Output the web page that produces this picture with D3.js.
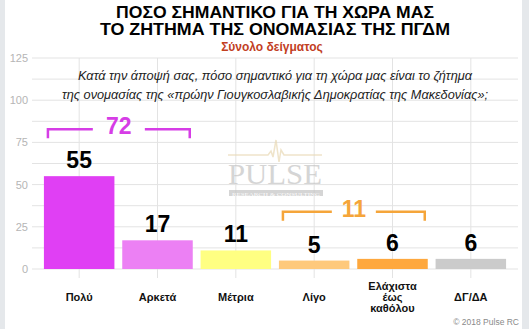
<!DOCTYPE html>
<html>
<head>
<meta charset="utf-8">
<script src="https://cdn.jsdelivr.net/npm/d3@7"></script>
<style>
  html, body { margin: 0; padding: 0; background: #fff; }
  svg { display: block; }
</style>
</head>
<body>
<svg id="chart" width="529" height="329"></svg>
<script>
// Survey answers and their shares (%)
const categories = ["Πολύ", "Αρκετά", "Μέτρια", "Λίγο", "Ελάχιστα έως καθόλου", "ΔΓ/ΔΑ"];
const categoryLines = [["Πολύ"], ["Αρκετά"], ["Μέτρια"], ["Λίγο"], ["Ελάχιστα", "έως", "καθόλου"], ["ΔΓ/ΔΑ"]];
const values = [55, 17, 11, 5, 6, 6];
const barColors = ["#e03ff4", "#ec80f4", "#ffff82", "#fec97c", "#fea83e", "#cbcbcb"];
const yTicks = [0, 25, 50, 75, 100, 125];
const gridValues = [0, 12.5, 25, 37.5, 50, 62.5, 75, 87.5, 100, 112.5, 125];

// Grouped totals shown with brackets above the bars
const groups = [
  { from: 0, to: 1, total: 72, color: "#d63de6" },
  { from: 3, to: 4, total: 11, color: "#f5a53a" }
];

const titleLines = ["ΠΟΣΟ ΣΗΜΑΝΤΙΚΟ ΓΙΑ ΤΗ ΧΩΡΑ ΜΑΣ", "ΤΟ ΖΗΤΗΜΑ ΤΗΣ ΟΝΟΜΑΣΙΑΣ ΤΗΣ ΠΓΔΜ"];
const titleWidths = [318, 350];
const subtitle = "Σύνολο δείγματος";
const questionLines = [
  "Κατά την άποψή σας, πόσο σημαντικό για τη χώρα μας είναι το ζήτημα",
  "της ονομασίας της «πρώην Γιουγκοσλαβικής Δημοκρατίας της Μακεδονίας»;"
];
const questionWidths = [394, 426];

const svg = d3.select("#chart");
const W = 529, H = 329;
const SANS = "Liberation Sans, Arial, sans-serif";

// side panels
svg.append("rect").attr("x", 0).attr("y", 0).attr("width", 5).attr("height", H).attr("fill", "#e5e8eb");
svg.append("rect").attr("x", 522).attr("y", 0).attr("width", 7).attr("height", H).attr("fill", "#e5e8eb");

const x = d3.scaleBand().domain(categories).range([40, 510]).paddingInner(0.1).paddingOuter(0.05);
const y = d3.scaleLinear().domain([0, 125]).range([269, 58]);

// grid
const grid = svg.append("g");
grid.selectAll("line.h").data(gridValues).join("line")
  .attr("x1", 32).attr("x2", 518)
  .attr("y1", d => y(d)).attr("y2", d => y(d))
  .attr("stroke", "#e3e3e3").attr("stroke-width", 1);
grid.selectAll("line.v").data(categories).join("line")
  .attr("x1", d => x(d) + x.bandwidth() / 2).attr("x2", d => x(d) + x.bandwidth() / 2)
  .attr("y1", y(125)).attr("y2", 278)
  .attr("stroke", "#e3e3e3").attr("stroke-width", 1);

// y axis labels
const yAxis = d3.axisLeft(y).tickValues(yTicks).tickSize(0).tickPadding(0);
const gy = svg.append("g").attr("transform", "translate(28,0)").call(yAxis);
gy.select(".domain").remove();
gy.selectAll("text").attr("fill", "#b5b5b5").attr("font-size", 11).attr("font-family", SANS);

// watermark logo
const wm = svg.append("g").attr("opacity", 0.7);
wm.append("path")
  .attr("d", "M228,155 L268,155 L271,151 L273,157 L276,140 L279,162 L281,150 L284,155 L322,155")
  .attr("fill", "none").attr("stroke", "#e9d9b5").attr("stroke-width", 1.5);
wm.append("text").attr("x", 275).attr("y", 184).attr("text-anchor", "middle")
  .attr("font-family", "Liberation Serif, Times New Roman, serif").attr("font-size", 30)
  .attr("fill", "#c4c4c4").attr("textLength", 94).attr("lengthAdjust", "spacingAndGlyphs").text("PULSE");
wm.append("rect").attr("x", 229).attr("y", 190).attr("width", 94).attr("height", 6).attr("fill", "#c4c4c4");
wm.append("text").attr("x", 276).attr("y", 195.5).attr("text-anchor", "middle")
  .attr("font-family", "Liberation Serif, serif").attr("font-size", 5)
  .attr("fill", "#fff").attr("textLength", 88).attr("lengthAdjust", "spacingAndGlyphs").text("RESEARCH & CONSULTING");

// bars
svg.append("g").selectAll("rect").data(values).join("rect")
  .attr("x", (d, i) => x(categories[i]))
  .attr("y", d => y(d))
  .attr("width", x.bandwidth())
  .attr("height", d => y(0) - y(d))
  .attr("fill", (d, i) => barColors[i]);

// value labels
svg.append("g").selectAll("text").data(values).join("text")
  .attr("x", (d, i) => x(categories[i]) + x.bandwidth() / 2)
  .attr("y", d => y(d) - 8)
  .attr("text-anchor", "middle")
  .attr("font-family", SANS)
  .attr("font-weight", "bold").attr("font-size", 23).attr("fill", "#000")
  .text(d => d);

// group brackets
groups.forEach(g => {
  const x0 = x(categories[g.from]) + 4;
  const x1 = x(categories[g.to]) + x.bandwidth() - 3;
  const top = y(d3.max(values.slice(g.from, g.to + 1))) - 47;
  const cx = (x0 + x1) / 2;
  const gap = g.total >= 20 ? 26 : 22;
  const b = svg.append("g").attr("stroke", g.color).attr("stroke-width", 2.5).attr("fill", "none");
  b.append("path").attr("d", `M${x0},${top + 9} L${x0},${top} L${cx - gap},${top}`);
  b.append("path").attr("d", `M${cx + gap},${top} L${x1},${top} L${x1},${top + 9}`);
  svg.append("text").attr("x", cx).attr("y", top + 5)
    .attr("text-anchor", "middle")
    .attr("font-family", SANS)
    .attr("font-weight", "bold").attr("font-size", 23).attr("fill", g.color)
    .text(g.total);
});

// category labels
const cat = svg.append("g");
categoryLines.forEach((lines, i) => {
  const cx = x(categories[i]) + x.bandwidth() / 2;
  const lh = 11;
  const base = 301 - (lines.length - 1) * lh / 2;
  lines.forEach((t, j) => {
    cat.append("text").attr("x", cx).attr("y", base + j * lh)
      .attr("text-anchor", "middle")
      .attr("font-family", SANS)
      .attr("font-weight", "bold").attr("font-size", 11).attr("fill", "#111")
      .text(t);
  });
});

// titles
titleLines.forEach((t, i) => {
  svg.append("text").attr("x", 275).attr("y", 18 + i * 17)
    .attr("text-anchor", "middle")
    .attr("font-family", SANS)
    .attr("font-weight", "bold").attr("font-size", 16.5).attr("fill", "#000")
    .attr("textLength", titleWidths[i]).attr("lengthAdjust", "spacingAndGlyphs")
    .text(t);
});
svg.append("text").attr("x", 272).attr("y", 51)
  .attr("text-anchor", "middle")
  .attr("font-family", SANS)
  .attr("font-weight", "bold").attr("font-size", 12).attr("fill", "#c2401f")
  .text(subtitle);

questionLines.forEach((t, i) => {
  svg.append("text").attr("x", 275).attr("y", 80 + i * 19)
    .attr("text-anchor", "middle")
    .attr("font-family", SANS)
    .attr("font-style", "italic").attr("font-size", 12.5).attr("fill", "#222")
    .attr("textLength", questionWidths[i]).attr("lengthAdjust", "spacingAndGlyphs")
    .text(t);
});

// copyright
svg.append("text").attr("x", 519).attr("y", 325)
  .attr("text-anchor", "end")
  .attr("font-family", SANS)
  .attr("font-size", 8.5).attr("fill", "#8a8a8a")
  .text("© 2018 Pulse RC");
</script>
</body>
</html>
